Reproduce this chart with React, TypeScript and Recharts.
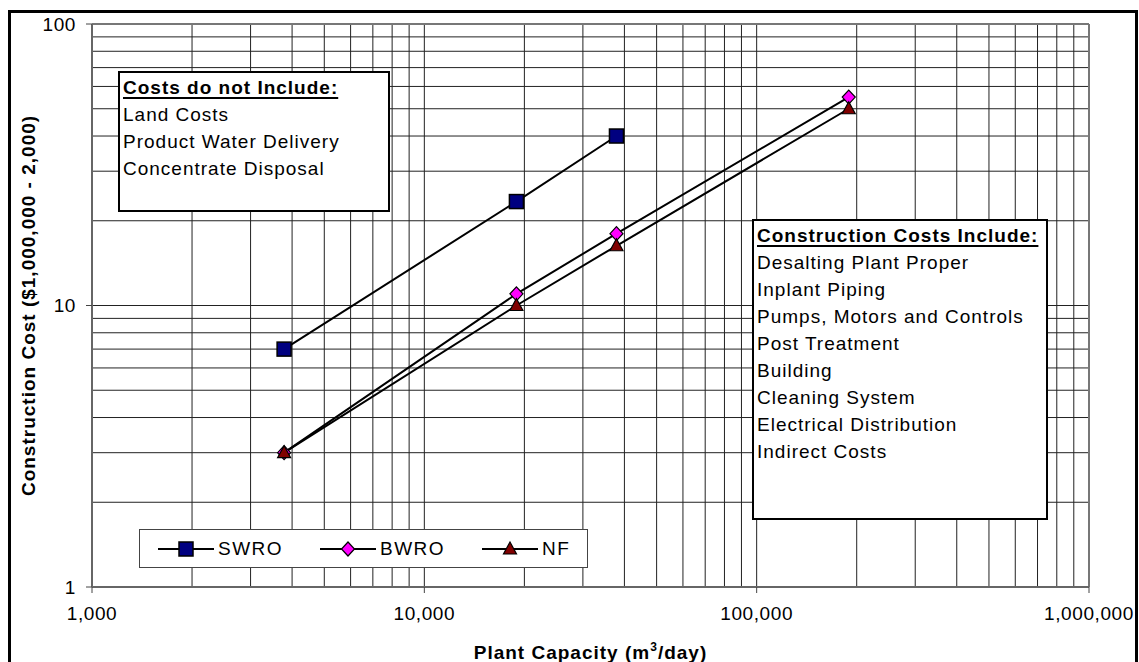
import React from "react";
import { LineChart, Line, XAxis, YAxis, Legend, ReferenceLine } from "recharts";

// plant capacity in m3/day (1, 5, 10 and 50 MGD)
const capacity = [3785, 18927, 37854, 189271];
const swroCost = [7, 23.4, 40];
const bwroCost = [3, 11, 18, 55];
const nfCost = [3, 10, 16.3, 50];

const seriesNames = ["SWRO", "BWRO", "NF"];
const xTicks = [1000, 10000, 100000, 1000000];
const yTicks = [1, 10, 100];
const minorSteps = [2, 3, 4, 5, 6, 7, 8, 9];

const excludedItems = ["Land Costs", "Product Water Delivery", "Concentrate Disposal"];
const includedItems = [
  "Desalting Plant Proper",
  "Inplant Piping",
  "Pumps, Motors and Controls",
  "Post Treatment",
  "Building",
  "Cleaning System",
  "Electrical Distribution",
  "Indirect Costs",
];

const FONT = '"Liberation Sans", Arial, sans-serif';

const toPoints = (costs: number[]) => costs.map((cost, i) => ({ capacity: capacity[i], cost }));
const swroData = toPoints(swroCost);
const bwroData = toPoints(bwroCost);
const nfData = toPoints(nfCost);

// grid at every step inside each decade, plus the inner decades
const xGrid = [1000, 10000, 100000].flatMap((d) => minorSteps.map((s) => s * d).concat(d * 10)).slice(0, -1);
const yGrid = [1, 10].flatMap((d) => minorSteps.map((s) => s * d).concat(d * 10)).slice(0, -1);

const Square = ({ cx, cy }: any) => (
  <rect x={cx - 7} y={cy - 7} width={14} height={14} fill="#000080" stroke="#000" strokeWidth={1.5} />
);
const Diamond = ({ cx, cy }: any) => (
  <path d={`M${cx},${cy - 7}L${cx + 6.5},${cy}L${cx},${cy + 7}L${cx - 6.5},${cy}Z`} fill="#ff00ff" stroke="#000" strokeWidth={1.2} />
);
const Triangle = ({ cx, cy }: any) => (
  <path d={`M${cx},${cy - 7}L${cx + 6.5},${cy + 5}L${cx - 6.5},${cy + 5}Z`} fill="#800000" stroke="#000" strokeWidth={1.2} />
);

const markers: Record<string, (p: any) => React.ReactElement> = {
  SWRO: Square,
  BWRO: Diamond,
  NF: Triangle,
};

const dotFor = (name: string) => (props: any) => {
  const M = markers[name];
  if (props.cx == null || props.cy == null) return <g key={`${name}-${props.index}`} />;
  return (
    <g key={`${name}-${props.index}`}>
      <M cx={props.cx} cy={props.cy} />
    </g>
  );
};

const renderLegend = (props: any) => {
  const items = [...(props.payload || [])].sort(
    (a: any, b: any) => seriesNames.indexOf(a.value) - seriesNames.indexOf(b.value)
  );
  return (
    <div
      style={{
        width: 449,
        height: 39,
        boxSizing: "border-box",
        border: "1.5px solid #444",
        background: "#fff",
        display: "flex",
        alignItems: "center",
        paddingLeft: 18,
        fontFamily: FONT,
        fontSize: 19,
        letterSpacing: 1.5,
        color: "#000",
      }}
    >
      {items.map((entry: any) => {
        const M = markers[entry.value];
        return (
          <div key={entry.value} style={{ display: "flex", alignItems: "center", width: 162, flexShrink: 0 }}>
            <svg width={56} height={20} style={{ overflow: "visible" }}>
              <line x1={0} y1={10} x2={56} y2={10} stroke="#000" strokeWidth={2} />
              {M ? <M cx={28} cy={10} /> : null}
            </svg>
            <span style={{ marginLeft: 4 }}>{entry.value}</span>
          </div>
        );
      })}
    </div>
  );
};

const XTitle = ({ viewBox }: any) => (
  <text
    x={viewBox.x + viewBox.width / 2}
    y={viewBox.y + 72}
    textAnchor="middle"
    fontFamily={FONT}
    fontWeight="bold"
    fontSize={19}
    letterSpacing={1}
    fill="#000"
  >
    <tspan>Plant Capacity (m</tspan>
    <tspan dy={-8} fontSize={12}>3</tspan>
    <tspan dy={8}>/day)</tspan>
  </text>
);

const YTitle = ({ viewBox }: any) => {
  const x = viewBox.x + 28;
  const y = viewBox.y + viewBox.height / 2;
  return (
    <text
      x={x}
      y={y}
      transform={`rotate(-90, ${x}, ${y})`}
      textAnchor="middle"
      dominantBaseline="central"
      fontFamily={FONT}
      fontWeight="bold"
      fontSize={19}
      letterSpacing={1}
      fill="#000"
    >
      Construction Cost ($1,000,000 - 2,000)
    </text>
  );
};

const boxStyle: React.CSSProperties = {
  position: "absolute",
  boxSizing: "border-box",
  border: "2px solid #000",
  background: "#fff",
  fontFamily: FONT,
  fontSize: 19,
  letterSpacing: 1,
  lineHeight: "27px",
  color: "#000",
  paddingLeft: 3,
  paddingTop: 1,
};

const headStyle: React.CSSProperties = {
  fontWeight: "bold",
  textDecoration: "underline",
  textDecorationThickness: 2,
  textUnderlineOffset: 3,
};

const tickStyle = { fontFamily: FONT, fontSize: 19, fill: "#000", letterSpacing: 0.6 };

export default function App() {
  return (
    <div style={{ position: "fixed", left: 0, top: 0, width: 1139, height: 662, background: "#fff", overflow: "hidden" }}>
      <LineChart width={1139} height={662} margin={{ top: 24, right: 50, bottom: 0, left: 0 }}>
        <XAxis
          dataKey="capacity"
          type="number"
          scale="log"
          domain={[1000, 1000000]}
          ticks={xTicks}
          allowDataOverflow
          tickFormatter={(v: number) => v.toLocaleString("en-US")}
          height={75}
          tickSize={6}
          tickMargin={14}
          tick={tickStyle}
          axisLine={{ stroke: "#666", strokeWidth: 2 }}
          tickLine={{ stroke: "#444" }}
          label={<XTitle />}
        />
        <YAxis
          dataKey="cost"
          type="number"
          scale="log"
          domain={[1, 100]}
          ticks={yTicks}
          allowDataOverflow
          width={92}
          tickSize={6}
          tickMargin={10}
          tick={tickStyle}
          axisLine={{ stroke: "#666", strokeWidth: 2 }}
          tickLine={{ stroke: "#444" }}
          label={<YTitle />}
        />
        {xGrid.map((v) => (
          <ReferenceLine key={`gx-${v}`} x={v} stroke="#222" strokeWidth={1} />
        ))}
        {yGrid.map((v) => (
          <ReferenceLine key={`gy-${v}`} y={v} stroke="#222" strokeWidth={1} />
        ))}
        <ReferenceLine y={100} stroke="#777" strokeWidth={2} />
        <ReferenceLine x={1000000} stroke="#777" strokeWidth={2} />
        <Legend
          layout="vertical"
          align="center"
          verticalAlign="middle"
          content={renderLegend}
          wrapperStyle={{ position: "absolute", left: 139, top: 529, width: 449, height: 39 }}
        />
        <Line name="SWRO" data={swroData} dataKey="cost" stroke="#000" strokeWidth={2} dot={dotFor("SWRO")} isAnimationActive={false} />
        <Line name="BWRO" data={bwroData} dataKey="cost" stroke="#000" strokeWidth={2} dot={dotFor("BWRO")} isAnimationActive={false} />
        <Line name="NF" data={nfData} dataKey="cost" stroke="#000" strokeWidth={2} dot={dotFor("NF")} isAnimationActive={false} />
      </LineChart>

      <div style={{ ...boxStyle, left: 118, top: 71, width: 272, height: 141 }}>
        <div style={headStyle}>Costs do not Include:</div>
        {excludedItems.map((t) => (
          <div key={t}>{t}</div>
        ))}
      </div>

      <div style={{ ...boxStyle, left: 752, top: 219, width: 296, height: 301 }}>
        <div style={headStyle}>Construction Costs Include:</div>
        {includedItems.map((t) => (
          <div key={t}>{t}</div>
        ))}
      </div>

      <div
        style={{
          position: "absolute",
          left: 8,
          top: 10,
          width: 1130,
          height: 700,
          boxSizing: "border-box",
          border: "3px solid #000",
          pointerEvents: "none",
        }}
      />
    </div>
  );
}
